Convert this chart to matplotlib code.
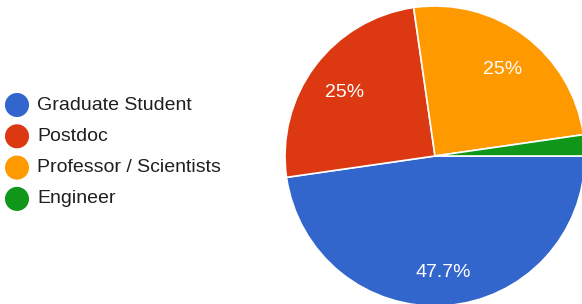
import matplotlib.pyplot as plt
from matplotlib.transforms import ScaledTranslation

plt.rcParams["font.family"] = ["Liberation Sans", "DejaVu Sans"]

categories = ["Graduate Student", "Postdoc", "Professor / Scientists", "Engineer"]
counts = [21, 11, 11, 1]
colors = ["#3366cc", "#dc3912", "#ff9900", "#109618"]

W, H = 582, 304
fig = plt.figure(figsize=(W / 100, H / 100), dpi=100)

# pie: centre at (435, 156) px, radius 150 px
cx, cy, r = 435, 156, 150
ax = fig.add_axes([(cx - r) / W, (H - cy - r) / H, 2 * r / W, 2 * r / H])


def fmt(p):
    if p < 5:
        return ""
    return f"{p:.1f}%".replace(".0%", "%")


wedges, texts, autotexts = ax.pie(
    counts, colors=colors, startangle=0, counterclock=False,
    autopct=fmt, pctdistance=0.75, radius=1,
    wedgeprops=dict(edgecolor="white", linewidth=1.2),
    textprops=dict(color="white", fontsize=14))
shift = ScaledTranslation(0, -4 / 100, fig.dpi_scale_trans)
for t in autotexts:
    t.set_transform(t.get_transform() + shift)
ax.set_xlim(-1, 1)
ax.set_ylim(-1, 1)
ax.set_aspect("auto")
ax.axis("off")

# legend
lax = fig.add_axes([0, 0, 1, 1])
lax.set_xlim(0, W)
lax.set_ylim(H, 0)
lax.axis("off")
y0, dy = 105, 31.3
for i, (lab, col) in enumerate(zip(categories, colors)):
    y = y0 + i * dy
    lax.scatter([17], [y], s=300, color=col, edgecolors="none")
    lax.text(37, y, lab, fontsize=14, va="center", ha="left", color="#1f1f1f")

fig.savefig("out.png", dpi=100)
